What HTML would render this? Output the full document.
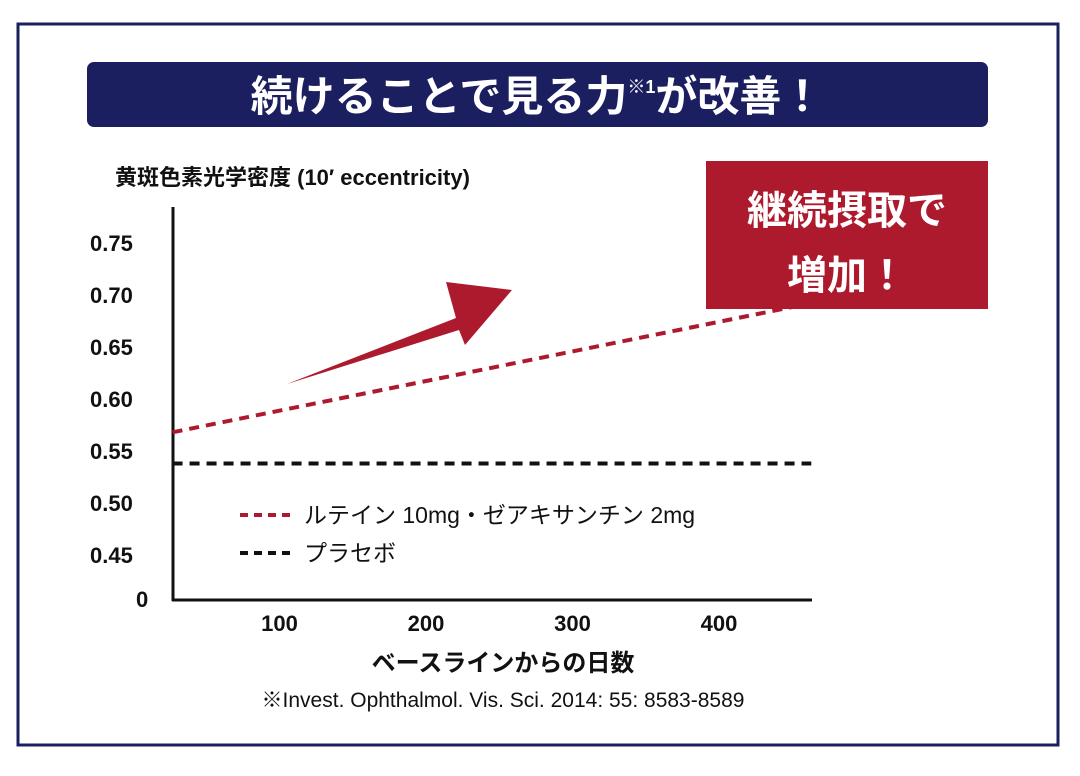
<!DOCTYPE html>
<html><head><meta charset="utf-8">
<style>
html,body{margin:0;padding:0;background:#fff;}
svg{display:block;font-family:"Liberation Sans","Noto Sans CJK JP",sans-serif;}
</style></head>
<body>
<svg id="chart" width="1080" height="776" viewBox="0 0 1080 776">
<rect x="18" y="24" width="1040" height="721" fill="#fff" stroke="#1b1f5f" stroke-width="3"/>
<rect x="87" y="62" width="901" height="65" rx="7" fill="#1b1f5f"/>
<text x="537" y="111" text-anchor="middle" fill="#fff" font-size="42" font-weight="bold">続けることで見る力<tspan font-size="18" dy="-18">※1</tspan><tspan dy="18">が改善！</tspan></text>
<text x="115" y="185" font-size="22" font-weight="bold" fill="#111">黄斑色素光学密度 (10′ eccentricity)</text>
<g id="plot"></g>
<polygon points="287,384 456,318 446,282 512,290 465,345 459,330" fill="#ad1a2e"/>
<rect x="706" y="161" width="282" height="148" fill="#ad1a2e"/>
<text x="847" y="224" text-anchor="middle" fill="#fff" font-size="40" font-weight="bold">継続摂取で</text>
<text x="847" y="289" text-anchor="middle" fill="#fff" font-size="40" font-weight="bold">増加！</text>
<line x1="240" y1="515" x2="292" y2="515" stroke="#ad1a2e" stroke-width="4" stroke-dasharray="8,6"/>
<text x="304" y="523" font-size="23" fill="#111">ルテイン 10mg・ゼアキサンチン 2mg</text>
<line x1="240" y1="553" x2="292" y2="553" stroke="#111" stroke-width="4" stroke-dasharray="8,6"/>
<text x="304" y="561" font-size="23" fill="#111">プラセボ</text>
<text x="503" y="671" text-anchor="middle" font-size="24" font-weight="bold" fill="#111">ベースラインからの日数</text>
<text x="503" y="707" text-anchor="middle" font-size="21" fill="#111">※Invest. Ophthalmol. Vis. Sci. 2014: 55: 8583-8589</text>
</svg>
<script>
const xTicks = [100, 200, 300, 400];
const yTicks = [0.45, 0.50, 0.55, 0.60, 0.65, 0.70, 0.75];
const yTickLabels = ["0.45", "0.50", "0.55", "0.60", "0.65", "0.70", "0.75"];
const luteinDays = [27, 480];
const luteinValues = [0.568, 0.697];
const placeboDays = [27, 463];
const placeboValues = [0.538, 0.538];

const NS = "http://www.w3.org/2000/svg";
const g = document.getElementById("plot");
function xs(d){ return 133 + d * 1.465; }
function ys(v){ return 451 - (v - 0.55) / 0.05 * 52; }
function mk(tag, attrs){ const e = document.createElementNS(NS, tag); for (const k in attrs) e.setAttribute(k, attrs[k]); g.appendChild(e); return e; }

let ax = mk("line", {x1:173, y1:207, x2:173, y2:601, stroke:"#111", "stroke-width":3});


let bx = mk("line", {x1:172, y1:600, x2:812, y2:600, stroke:"#111", "stroke-width":3});



yTicks.forEach((v, i) => {
  const t = mk("text", {x:90, y:ys(v) + 8, "font-size":22, "font-weight":"bold", fill:"#111"});
  t.textContent = yTickLabels[i];
  
  
});
const z = mk("text", {x:136, y:607, "font-size":22, "font-weight":"bold", fill:"#111"});
z.textContent = "0";


xTicks.forEach(d => {
  const t = mk("text", {x:xs(d), y:631, "font-size":22, "font-weight":"bold", fill:"#111", "text-anchor":"middle"});
  t.textContent = String(d);
  
  
});

function series(days, vals, color, name){
  const pts = days.map((d, i) => xs(d) + "," + ys(vals[i])).join(" ");
  const p = mk("polyline", {points:pts, fill:"none", stroke:color, "stroke-width":4, "stroke-dasharray":"10,7"});
  
  
}
series(placeboDays, placeboValues, "#111", "placebo-line");
series(luteinDays, luteinValues, "#ad1a2e", "lutein-line");
</script>
</body></html>
